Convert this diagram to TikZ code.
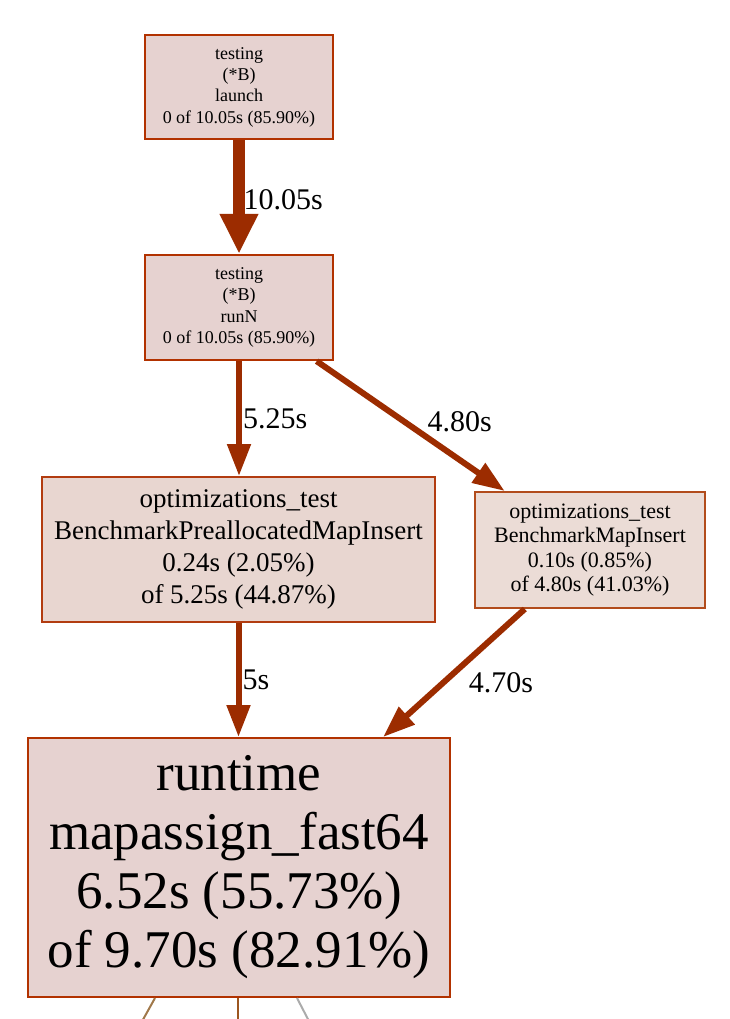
\documentclass[tikz,border=0pt]{standalone}
\usepackage{fontspec}
\setmainfont{Liberation Serif}
\usetikzlibrary{arrows.meta}

\definecolor{nodefill}{HTML}{E6D2D0}
\definecolor{leftfill}{HTML}{E8D6D0}
\definecolor{rightfill}{HTML}{EBDCD6}
\definecolor{nodeline}{HTML}{B23200}
\definecolor{leftline}{HTML}{B23C10}
\definecolor{rightline}{HTML}{B24C1C}
\definecolor{edgecol}{HTML}{9C2C00}
\definecolor{stubtan}{HTML}{A0784A}
\definecolor{stubbrown}{HTML}{9C5620}
\definecolor{stubgray}{HTML}{ABABAB}

\tikzset{
	fnode/.style={rectangle, draw=nodeline, fill=nodefill, line width=1.5pt, inner sep=0pt, align=center},
	hotedge/.style={draw=edgecol, line width=4.5pt, -{Triangle[length=24pt,width=17pt]}},
	elabel/.style={font=\fontsize{22.5}{27}\selectfont, anchor=west, inner sep=0pt},
}

\begin{document}
\begin{tikzpicture}[x=0.75pt,y=-0.75pt]
		\clip (0,0) rectangle (730,1019);
		\fill[white] (0,0) rectangle (730,1019);
		%\draw[gray] (0,0) rectangle (730,1019);
		\node[fnode, minimum width=141pt, minimum height=78pt, font=\fontsize{13.5}{16}\selectfont] (launch) at (239,87) {testing\\(*B)\\launch\\0 of 10.05s (85.90\%)};
		\node[fnode, minimum width=141pt, minimum height=79pt, font=\fontsize{13.5}{16}\selectfont] (runN) at (239,307.5) {testing\\(*B)\\runN\\0 of 10.05s (85.90\%)};
		\node[fnode, draw=leftline, fill=leftfill, minimum width=294.75pt, minimum height=108.75pt, font=\fontsize{20.25}{24}\selectfont] (prealloc) at (238.5,549.5) {optimizations\_test\\BenchmarkPreallocatedMapInsert\\0.24s (2.05\%)\\of 5.25s (44.87\%)};
		\node[fnode, draw=rightline, fill=rightfill, minimum width=172.5pt, minimum height=87pt, font=\fontsize{16.5}{18.2}\selectfont] (mapins) at (590,550) {optimizations\_test\\BenchmarkMapInsert\\0.10s (0.85\%)\\of 4.80s (41.03\%)};
		\node[fnode, minimum width=316.5pt, minimum height=194.25pt, font=\fontsize{39.75}{44.25}\selectfont] (mapassign) at (239,867.5) {runtime\\mapassign\_fast64\\6.52s (55.73\%)\\of 9.70s (82.91\%)};

		\draw[hotedge, line width=9pt, -{Triangle[length=30pt,width=27pt]}] (launch) -- (runN) node[elabel, pos=0.5, xshift=-1pt, yshift=-2pt]{10.05s};
		\draw[hotedge] (runN.south) -- (runN.south |- prealloc.north) node[elabel, pos=0.5, xshift=0.75pt]{5.25s};
		\draw[hotedge] (runN) -- (mapins) node[elabel, pos=0.5, xshift=10.5pt, yshift=3pt]{4.80s};
		\draw[hotedge] (prealloc.south) -- (prealloc.south |- mapassign.north) node[elabel, pos=0.5, xshift=0.75pt]{5s};
		\draw[hotedge] (mapins) -- (mapassign) node[elabel, pos=0.5, xshift=9pt, yshift=-7.5pt]{4.70s};

		\coordinate (stubl) at (140,1025);
		\coordinate (stubm) at (238,1025);
		\coordinate (stubr) at (311,1025);
		\draw[stubtan, line width=1.5pt] ([xshift=-63pt]mapassign.south) -- (stubl);
		\draw[stubbrown, line width=1.5pt] ([xshift=-0.75pt]mapassign.south) -- (stubm);
		\draw[stubgray, line width=1.5pt] ([xshift=43.5pt]mapassign.south) -- (stubr);
	\end{tikzpicture}
\end{document}
